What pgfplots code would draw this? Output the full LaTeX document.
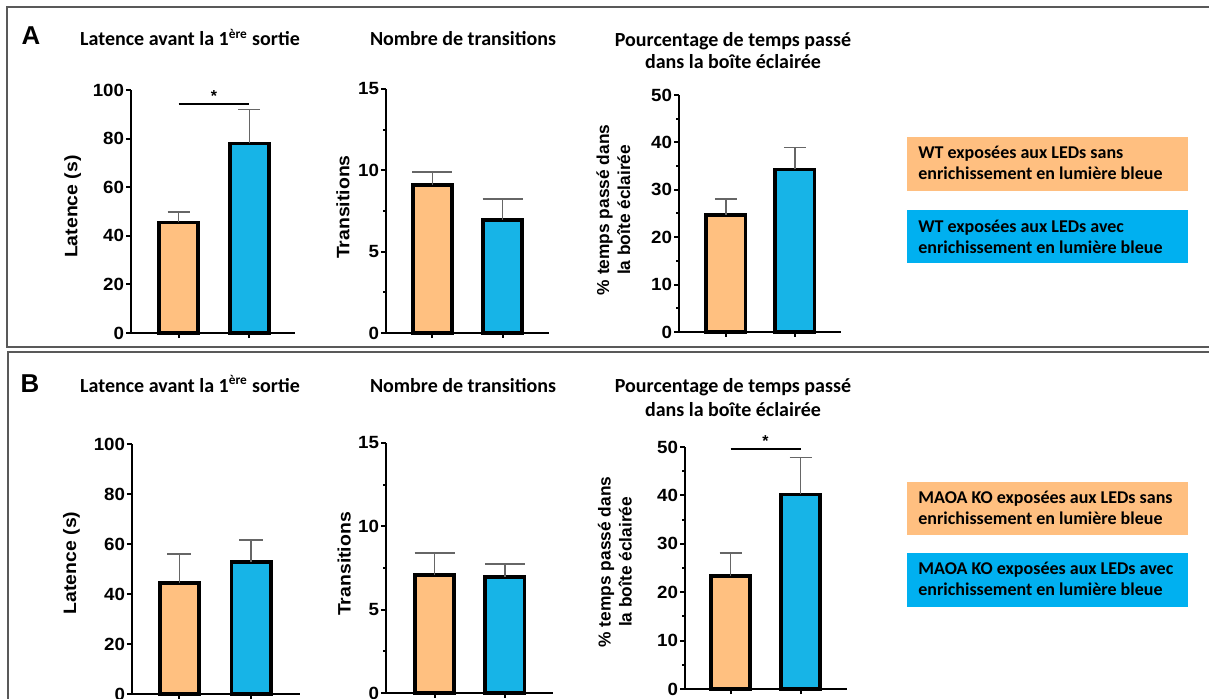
\documentclass[border=0pt]{standalone}
\usepackage{fontspec}
\usepackage{graphicx}
\usepackage{pgfplots}
\pgfplotsset{compat=1.18}
\setmainfont{Carlito}
\newfontfamily\arialf{Liberation Sans}
\definecolor{barO}{HTML}{FFC080}
\definecolor{barB}{HTML}{17B4E7}
\definecolor{legO}{HTML}{FFBF80}
\definecolor{legB}{HTML}{00B0F0}
\definecolor{frame}{HTML}{595959}
\newcommand\stx[1]{\scalebox{1.06}[1]{#1}}
\newcommand\stl[1]{\scalebox{1.08}[1]{#1}}
\pgfplotsset{
  gp/.style={
    scale only axis, anchor=south west,
    axis x line*=bottom, axis y line*=left,
    axis line style={line width=1.2pt, black},
    every tick/.style={black, line width=1.2pt},
    tick align=outside,
    major tick length=3pt,
    minor tick length=1.8pt,
    ymin=0,
    xtick={1,2}, xticklabels={},
    yticklabel={\stx{\pgfmathprintnumber{\tick}}},
    yticklabel style={font=\arialf\bfseries\fontsize{10.6}{12}\selectfont, inner sep=1pt},
    /pgf/number format/assume math mode=true,
    ylabel style={font=\arialf\bfseries\fontsize{10.8}{12.6}\selectfont, align=center, anchor=center},
    clip=false,
  },
  eb/.style={error bars/.cd, y dir=plus, y explicit,
    error bar style={line width=0.9pt, draw=black!60},
    error mark options={rotate=90, mark size=#1, line width=0.9pt, draw=black!60}},
  bO/.style={ybar, bar shift=0pt, bar width=23.5pt, fill=barO, draw=black, line width=2.3pt, line join=miter},
  bB/.style={ybar, bar shift=0pt, bar width=23.5pt, fill=barB, draw=black, line width=2.3pt, line join=miter},
}
\newcommand\starfont{\arialf\bfseries\fontsize{9.5}{9.5}\selectfont}
\newcommand\pctlabel{\fontsize{10.4}{12.6}\selectfont\begin{tabular}{@{}c@{}}\% temps passé dans\\la boîte éclairée\end{tabular}}
\begin{document}
\begin{tikzpicture}
\useasboundingbox (0,0) rectangle (725.4pt,-419.4pt);
\begin{scope}[x=0.6pt,y=-0.6pt]
  % panel frames
  \draw[frame, line width=1.3pt] (1215,7) -- (7,7) -- (7,347) -- (1215,347);
  \draw[frame, line width=1.3pt] (1215,352) -- (8,352) -- (8,710);
  % panel letters
  \node[anchor=base, font=\arialf\bfseries\fontsize{15.5}{15.5}\selectfont] at (31,45) {A};
  \node[anchor=base, font=\arialf\bfseries\fontsize{15.5}{15.5}\selectfont] at (30,392) {B};
  % titles
  \begin{scope}[every node/.style={anchor=base, font=\bfseries\fontsize{12}{14.4}\selectfont}]
    \node at (190,46) {Latence avant la 1\textsuperscript{ère} sortie};
    \node at (463,46) {Nombre de transitions};
    \node at (733,47) {Pourcentage de temps passé};
    \node at (733,69) {dans la boîte éclairée};
    \node at (190,392) {Latence avant la 1\textsuperscript{ère} sortie};
    \node at (463,392) {Nombre de transitions};
    \node at (733,392) {Pourcentage de temps passé};
    \node at (733,416) {dans la boîte éclairée};
  \end{scope}
  % legend boxes
  \fill[legO] (907,137) rectangle (1188,191);
  \fill[legB] (907,210) rectangle (1188,263);
  \fill[legO] (907,482) rectangle (1188,535);
  \fill[legB] (907,553) rectangle (1188,607);
  \begin{scope}[every node/.style={anchor=base west, inner sep=0pt, font=\bfseries\fontsize{10.8}{13}\selectfont}]
    \node at (918,159) {WT exposées aux LEDs sans};
    \node at (918,180) {enrichissement en lumière bleue};
    \node at (918,232) {WT exposées aux LEDs avec};
    \node at (918,253) {enrichissement en lumière bleue};
    \node at (918,503) {MAOA KO exposées aux LEDs sans};
    \node at (918,524) {enrichissement en lumière bleue};
    \node at (918,574) {MAOA KO exposées aux LEDs avec};
    \node at (918,595) {enrichissement en lumière bleue};
  \end{scope}
\end{scope}

% ---------- A1 ----------
\begin{axis}[gp, at={(78.6pt,-199.8pt)}, width=98.4pt, height=145.8pt,
  xmin=0.326, xmax=2.645, ymax=100, ytick={0,20,...,100},
  ylabel={\stl{Latence (s)}}, ylabel style={at={(axis description cs:-0.355,0.52)}}]
  \addplot[bO, eb=6.6pt] coordinates {(1,45.5) +- (0,4.3)};
  \addplot[bB, eb=6.6pt] coordinates {(2,78) +- (0,14)};
  \draw[line width=1.2pt] (axis cs:1,94.2) -- (axis cs:2,94.2);
  \node[anchor=base, font=\starfont, inner sep=0pt] at (axis cs:1.5,95.2) {*};
\end{axis}
% ---------- A2 ----------
\begin{axis}[gp, at={(231.6pt,-199.8pt)}, width=97.8pt, height=146.4pt,
  xmin=0.336, xmax=2.664, ymax=15, ytick={0,5,10,15}, minor ytick={2.5,7.5,12.5},
  ylabel={\stl{Transitions}}, ylabel style={at={(axis description cs:-0.264,0.516)}}]
  \addplot[bO, eb=12pt] coordinates {(1,9.1) +- (0,0.8)};
  \addplot[bB, eb=12pt] coordinates {(2,6.95) +- (0,1.3)};
\end{axis}
% ---------- A3 ----------
\begin{axis}[gp, at={(407.4pt,-199.2pt)}, width=97.2pt, height=142.2pt,
  xmin=0.319, xmax=2.667, ymax=50, ytick={0,10,...,50}, minor ytick={5,15,...,45},
  ylabel={\pctlabel},
  ylabel style={at={(axis description cs:-0.392,0.515)}}]
  \addplot[bO, eb=6.6pt] coordinates {(1,24.7) +- (0,3.4)};
  \addplot[bB, eb=6.6pt] coordinates {(2,34.3) +- (0,4.6)};
\end{axis}
% ---------- B1 ----------
\begin{axis}[gp, at={(79.2pt,-416.4pt)}, width=100.8pt, height=150pt,
  xmin=0.336, xmax=2.685, ymax=100, ytick={0,20,...,100},
  ylabel={\stl{Latence (s)}}, ylabel style={at={(axis description cs:-0.36,0.524)}}]
  \addplot[bO, eb=7.2pt] coordinates {(1,44.5) +- (0,11.5)};
  \addplot[bB, eb=7.2pt] coordinates {(2,52.8) +- (0,8.8)};
\end{axis}
% ---------- B2 ----------
\begin{axis}[gp, at={(231.6pt,-415.8pt)}, width=100.2pt, height=150pt,
  xmin=0.312, xmax=2.681, ymax=15, ytick={0,5,10,15}, minor ytick={2.5,7.5,12.5},
  ylabel={\stl{Transitions}}, ylabel style={at={(axis description cs:-0.251,0.516)}}]
  \addplot[bO, eb=12pt] coordinates {(1,7.1) +- (0,1.3)};
  \addplot[bB, eb=12pt] coordinates {(2,6.95) +- (0,0.8)};
\end{axis}
% ---------- B3 ----------
\begin{axis}[gp, at={(411pt,-413.4pt)}, width=97.2pt, height=145.2pt,
  xmin=0.35, xmax=2.664, ymax=50, ytick={0,10,...,50}, minor ytick={5,15,...,45},
  ylabel={\pctlabel},
  ylabel style={at={(axis description cs:-0.42,0.525)}}]
  \addplot[bO, eb=6.6pt] coordinates {(1,23.3) +- (0,4.8)};
  \addplot[bB, eb=6.6pt] coordinates {(2,40.2) +- (0,7.6)};
  \draw[line width=1.2pt] (axis cs:1,49.6) -- (axis cs:2,49.6);
  \node[anchor=base, font=\starfont, inner sep=0pt] at (axis cs:1.5,50.1) {*};
\end{axis}
\end{tikzpicture}
\end{document}
